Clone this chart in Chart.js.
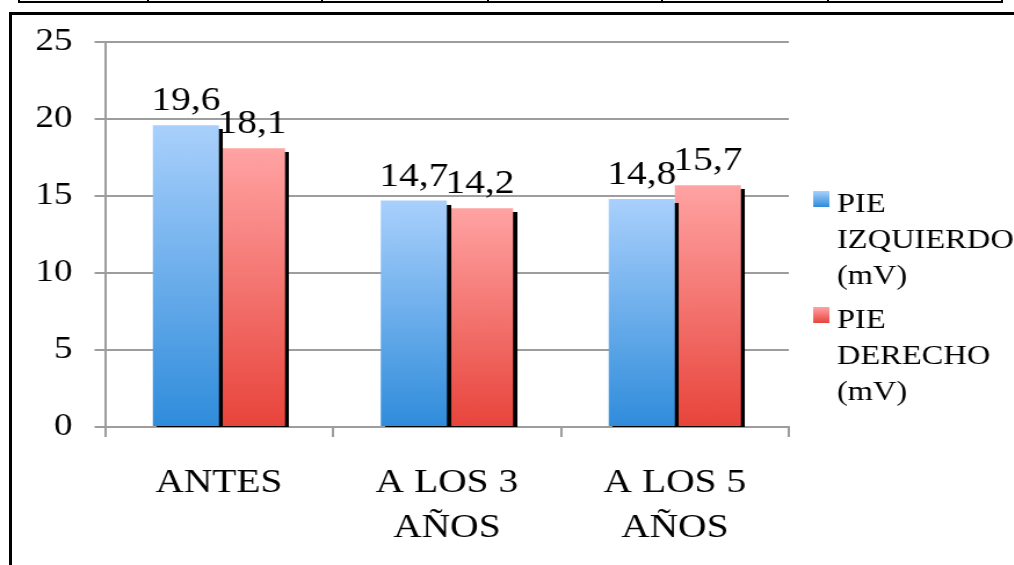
<!DOCTYPE html>
<html lang="es">
<head>
<meta charset="utf-8">
<script src="https://cdn.jsdelivr.net/npm/chart.js@4.4.0/dist/chart.umd.min.js"></script>
<style>
    html, body { margin: 0; padding: 0; background: #fff; width: 1014px; height: 565px; overflow: hidden; position: relative; }
    /* marco del gráfico y restos de la tabla superior */
    #marco   { position: absolute; left: 9px; top: 12px; width: 1100px; height: 600px; border-left: 3px solid #000; border-top: 3px solid #000; }
    .tabla-h { position: absolute; left: 18px; top: 1px; width: 985px; height: 2px; background: #000; }
    .tabla-v { position: absolute; top: 0; width: 2px; height: 3px; background: #000; }
    /* la imagen original está algo estirada en horizontal */
    #lienzo  { position: absolute; left: 0; top: 0; width: 874px; height: 565px; transform: scaleX(1.16); transform-origin: 0 0; }
</style>
</head>
<body>
<div class="tabla-h"></div>
<div class="tabla-v" style="left:18px"></div>
<div class="tabla-v" style="left:147px"></div>
<div class="tabla-v" style="left:321px"></div>
<div class="tabla-v" style="left:487px"></div>
<div class="tabla-v" style="left:661px"></div>
<div class="tabla-v" style="left:827px"></div>
<div class="tabla-v" style="left:1001px"></div>
<div id="marco"></div>
<div id="lienzo"><canvas id="grafico"></canvas></div>

<script>
// ── Datos ─────────────────────────────────────────────────────────────
const CATEGORIAS    = [['ANTES'], ['A LOS 3', 'AÑOS'], ['A LOS 5', 'AÑOS']];
const SERIES        = ['PIE IZQUIERDO (mV)', 'PIE DERECHO (mV)'];
const PIE_IZQUIERDO = [19.6, 14.7, 14.8];
const PIE_DERECHO   = [18.1, 14.2, 15.7];
const TICKS_Y       = [0, 5, 10, 15, 20, 25];

// ── Estilo ────────────────────────────────────────────────────────────
const FUENTE = '"Liberation Serif", "Times New Roman", serif';
const GRIS   = '#9d9d9d';
const AZUL   = ['#a9d0fc', '#2f8cdb'];
const ROJO   = ['#ffa3a3', '#e8443b'];

/** Degradado vertical por barra (claro arriba, oscuro abajo) */
function degradado(colores) {
    return (ctx) => {
        const chart = ctx.chart;
        const area  = chart.chartArea;
        if (!area || ctx.type !== 'data') return colores[1];
        const y = chart.scales.y.getPixelForValue(ctx.parsed.y);
        const g = chart.ctx.createLinearGradient(0, y, 0, area.bottom);
        g.addColorStop(0, colores[0]);
        g.addColorStop(1, colores[1]);
        return g;
    };
}

// sombra negra a la derecha de cada barra
const sombra = {
    id: 'sombra',
    beforeDatasetsDraw(chart) {
        const c = chart.ctx;
        c.save();
        c.shadowColor   = '#000';
        c.shadowOffsetX = 3.5;
        c.shadowOffsetY = 4;
        c.shadowBlur    = 0.5;
    },
    afterDatasetsDraw(chart) { chart.ctx.restore(); },
};

// valores encima de las barras, con coma decimal
const etiquetas = {
    id: 'etiquetas',
    afterDatasetsDraw(chart) {
        const c = chart.ctx;
        c.save();
        c.font         = '34px ' + FUENTE;
        c.fillStyle    = '#000';
        c.textAlign    = 'center';
        c.textBaseline = 'alphabetic';
        chart.data.datasets.forEach((ds, i) => {
            chart.getDatasetMeta(i).data.forEach((barra, j) => {
                c.fillText(String(ds.data[j]).replace('.', ','), barra.x, barra.y - 15);
            });
        });
        c.restore();
    },
};

// leyenda a la derecha, una palabra por línea
const leyenda = {
    id: 'leyenda',
    afterDraw(chart) {
        const c  = chart.ctx;
        const xc = chart.chartArea.right + 21;
        const xt = chart.chartArea.right + 41.5;
        let base = 212;
        c.save();
        c.font         = '28px ' + FUENTE;
        c.fillStyle    = '#000';
        c.textBaseline = 'alphabetic';
        chart.data.datasets.forEach((ds, i) => {
            const colores = i === 0 ? AZUL : ROJO;
            const g = c.createLinearGradient(0, base - 21, 0, base - 5);
            g.addColorStop(0, colores[0]);
            g.addColorStop(1, colores[1]);
            c.fillStyle = g;
            c.fillRect(xc, base - 21, 14, 16);
            c.fillStyle = '#000';
            ds.label.split(' ').forEach((palabra, k) => {
                c.fillText(palabra, xt, base + k * 36);
            });
            base += 116;
        });
        c.restore();
    },
};

new Chart(document.getElementById('grafico'), {
    type: 'bar',
    data: {
        labels: CATEGORIAS,
        datasets: [
            { label: SERIES[0], data: PIE_IZQUIERDO, backgroundColor: degradado(AZUL), clip: 0 },
            { label: SERIES[1], data: PIE_DERECHO,   backgroundColor: degradado(ROJO), clip: 0 },
        ],
    },
    options: {
        responsive:          true,
        maintainAspectRatio: false,
        animation:           false,
        datasets: { bar: { categoryPercentage: 0.58, barPercentage: 1, borderWidth: 0 } },
        layout:   { padding: { top: 42, right: 194, left: 0, bottom: 0 } },
        plugins:  { legend: { display: false }, tooltip: { enabled: false } },
        scales: {
            x: {
                grid:   { drawOnChartArea: false, drawTicks: true, tickLength: 10, color: GRIS, lineWidth: 2, offset: true },
                border: { color: GRIS, width: 2 },
                ticks:  { color: '#000', font: { family: FUENTE, size: 34, lineHeight: 1.32 }, padding: 24, maxRotation: 0, autoSkip: false },
                afterFit: (s) => { s.height = 138; },
            },
            y: {
                min: TICKS_Y[0],
                max: TICKS_Y[TICKS_Y.length - 1],
                ticks:  { stepSize: TICKS_Y[1] - TICKS_Y[0], color: '#000', font: { family: FUENTE, size: 32 }, padding: 19 },
                grid:   { color: GRIS, lineWidth: 2, tickLength: 9 },
                border: { color: GRIS, width: 2 },
                afterFit: (s) => { s.width = 90.5; },
            },
        },
    },
    plugins: [sombra, etiquetas, leyenda],
});
</script>
</body>
</html>
